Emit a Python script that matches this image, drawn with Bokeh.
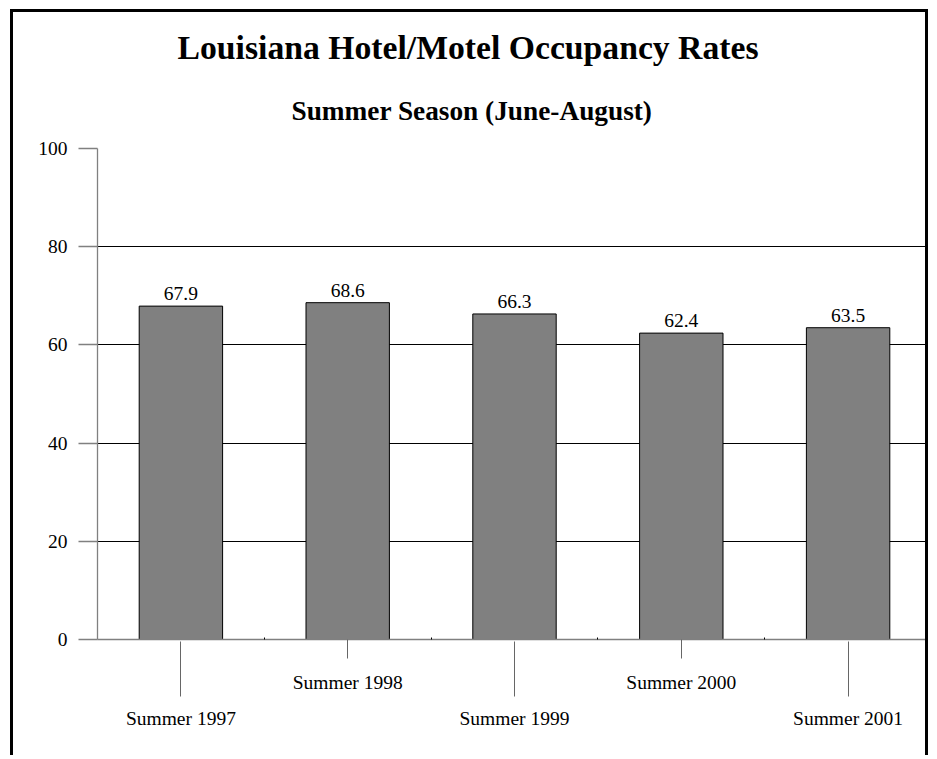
from bokeh.plotting import figure
from bokeh.models import (ColumnDataSource, Range1d, FixedTicker, LinearAxis, Title)
from bokeh.core.properties import value
from bokeh.embed import file_html
from bokeh.resources import INLINE

# ---- data ----
categories = ["Summer 1997", "Summer 1998", "Summer 1999", "Summer 2000", "Summer 2001"]
occupancy = [67.9, 68.6, 66.3, 62.4, 63.5]
y_ticks = [0, 20, 40, 60, 80, 100]
title_text = "Louisiana Hotel/Motel Occupancy Rates"
subtitle_text = "Summer Season (June-August)"

positions = [i + 1 for i in range(len(categories))]
labels = [f"{v:.1f}" for v in occupancy]
source = ColumnDataSource(dict(x=positions, top=occupancy, label=labels))

FONT = "Liberation Serif"

p = figure(width=918, height=746,
           x_range=Range1d(0.5, len(categories) + 0.5),
           y_range=Range1d(0, 100),
           output_backend="svg", toolbar_location=None,
           x_axis_location=None,
           min_border_left=84, min_border_right=0,
           min_border_top=136, min_border_bottom=119)
p.outline_line_color = None
p.background_fill_color = "white"
p.border_fill_color = "white"
p.styles = {"border-left": "3px solid black",
            "border-top": "3px solid black",
            "border-right": "3px solid black",
            "margin-left": "10px", "margin-top": "9px"}

# titles (last added is closest to the frame)
p.title.text = title_text
p.title.align = "left"
p.title.text_font = FONT
p.title.text_font_size = "33.7px"
p.title.text_font_style = "bold"
p.title.text_color = "black"
p.title.offset = 80
p.title.standoff = 10
sub = Title(text=subtitle_text, align="left", text_font=FONT,
            text_font_size="27.3px", text_font_style="bold",
            text_color="black", offset=194, standoff=46)
p.add_layout(sub, "above")

# bars
p.vbar(x="x", top="top", width=0.5, source=source,
       fill_color="#808080", line_color="black", line_width=1)
p.text(x="x", y="top", text="label", source=source,
       text_align="center", text_baseline="bottom", y_offset=-6,
       text_font=value(FONT), text_font_size="19.5px", text_color="black")

# y axis
ya = p.yaxis[0]
ya.ticker = FixedTicker(ticks=y_ticks, minor_ticks=[])
ya.axis_line_color = "#808080"
ya.axis_line_width = 1.3
ya.major_tick_line_color = "#808080"
ya.major_tick_line_width = 1.3
ya.major_tick_in = 0
ya.major_tick_out = 19
ya.minor_tick_line_color = None
ya.major_label_standoff = 11
ya.major_label_text_font = FONT
ya.major_label_text_font_size = "19.5px"
ya.major_label_text_color = "black"

p.ygrid.ticker = FixedTicker(ticks=[t for t in y_ticks if t > 0], minor_ticks=[])
p.ygrid.grid_line_color = "black"
p.ygrid.grid_line_width = 1
p.xgrid.visible = False

# x axes: staggered labels
even_pos = positions[1::2]
odd_pos = positions[0::2]
bounds = [pos + 0.5 for pos in positions[:-1]]

xa = LinearAxis(ticker=FixedTicker(ticks=even_pos, minor_ticks=bounds),
                major_label_overrides={pos: categories[pos - 1] for pos in even_pos})
xa.axis_line_color = "#808080"
xa.axis_line_width = 1.3
xa.major_tick_line_color = "#666666"
xa.major_tick_in = 0
xa.major_tick_out = 19
xa.minor_tick_line_color = "black"
xa.minor_tick_in = 2
xa.minor_tick_out = 0
xa.major_label_standoff = 13
xa.major_label_text_font = FONT
xa.major_label_text_font_size = "19.5px"
xa.major_label_text_color = "black"
p.add_layout(xa, "below")

xb = LinearAxis(ticker=FixedTicker(ticks=odd_pos, minor_ticks=[]),
                major_label_overrides={pos: categories[pos - 1] for pos in odd_pos})
xb.axis_line_color = None
xb.major_tick_line_color = "#666666"
xb.major_tick_in = 54
xb.major_tick_out = 1
xb.minor_tick_line_color = None
xb.major_label_standoff = 11
xb.major_label_text_font = FONT
xb.major_label_text_font_size = "19.5px"
xb.major_label_text_color = "black"
p.add_layout(xb, "below")

open("out.html", "w").write(file_html(p, INLINE))
